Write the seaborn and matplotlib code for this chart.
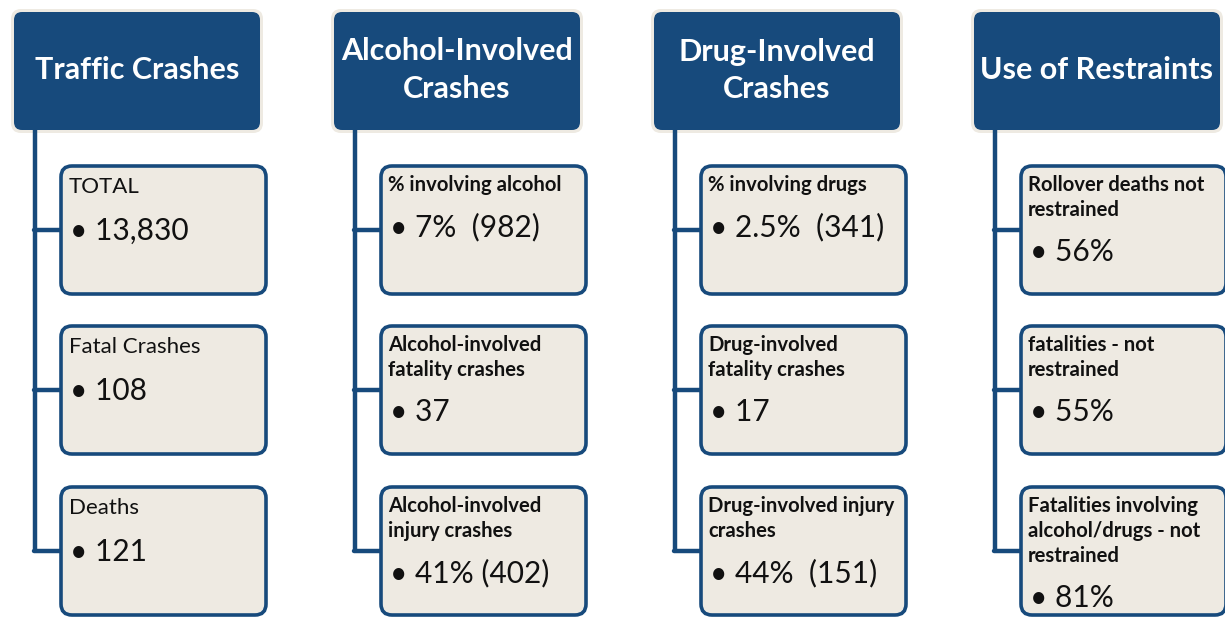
import matplotlib
matplotlib.use('Agg')
import matplotlib.pyplot as plt
from matplotlib.patches import FancyBboxPatch
import seaborn as sns

sns.set_theme(style='white')
plt.rcParams['font.family'] = ['Lato', 'DejaVu Sans']

# headers of the four groups
headers = ['Traffic Crashes', 'Alcohol-Involved\nCrashes', 'Drug-Involved\nCrashes', 'Use of Restraints']

# item labels (one list per group) and their values
labels = [
    ['TOTAL', 'Fatal Crashes', 'Deaths'],
    ['% involving alcohol', 'Alcohol-involved\nfatality crashes', 'Alcohol-involved\ninjury crashes'],
    ['% involving drugs', 'Drug-involved\nfatality crashes', 'Drug-involved injury\ncrashes'],
    ['Rollover deaths not\nrestrained', 'fatalities - not\nrestrained', 'Fatalities involving\nalcohol/drugs - not\nrestrained'],
]
values = [
    ['13,830', '108', '121'],
    ['7%  (982)', '37', '41% (402)'],
    ['2.5%  (341)', '17', '44%  (151)'],
    ['56%', '55%', '81%'],
]
label_bold = [False, True, True, True]

navy = '#174a7c'
beige = '#eeeae2'

fig = plt.figure(figsize=(12.25, 6.25), dpi=100)
ax = fig.add_axes([0, 0, 1, 1])
ax.set_xlim(0, 1225)
ax.set_ylim(625, 0)
ax.axis('off')

col_step = 320
box_tops = [166, 326, 487]
box_h = 128

for c, head in enumerate(headers):
    x0 = 12 + c * col_step
    # header with light ring
    ax.add_patch(FancyBboxPatch((x0 - 1, 9), 252, 124, boxstyle='round,pad=0,rounding_size=10',
                                fc=beige, ec='none', zorder=1))
    ax.add_patch(FancyBboxPatch((x0 + 2, 12), 246, 118, boxstyle='round,pad=0,rounding_size=8',
                                fc=navy, ec='none', zorder=2))
    hlines = head.split('\n')
    hy0 = 70 - (len(hlines) - 1) * 37 / 2
    for i, ln in enumerate(hlines):
        ax.text(x0 + 125, hy0 + i * 37, ln, color='white', fontsize=22, fontweight='bold',
                ha='center', va='center', zorder=3)

    # connector line
    lx = x0 + 23
    mids = [t + box_h / 2 for t in box_tops]
    ax.plot([lx, lx], [130, mids[-1]], color=navy, lw=3.2, solid_capstyle='butt', zorder=1)

    bx = x0 + 49
    for r in range(3):
        top = box_tops[r]
        ax.plot([lx - 1.5, bx], [mids[r], mids[r]], color=navy, lw=3.2, zorder=1)
        ax.add_patch(FancyBboxPatch((bx, top), 205, box_h, boxstyle='round,pad=0,rounding_size=11',
                                    fc=beige, ec=navy, lw=2.6, zorder=2))
        lab_lines = labels[c][r].split('\n')
        if label_bold[c]:
            for i, ln in enumerate(lab_lines):
                ax.text(bx + 7, top + 19 + i * 25, ln, fontsize=14.6, fontweight='bold',
                        color='#111111', ha='left', va='center', zorder=3)
            vy = top + 19 + (len(lab_lines) - 1) * 25 + 42
        else:
            ax.text(bx + 8, top + 21, lab_lines[0], fontsize=16, color='#111111',
                    ha='left', va='center', zorder=3)
            vy = top + 65
        ax.text(bx + 9, vy, '\u2022 ' + values[c][r], fontsize=21.5, color='#111111',
                ha='left', va='center', zorder=3)

fig.savefig('out.png', dpi=100, facecolor='white')
